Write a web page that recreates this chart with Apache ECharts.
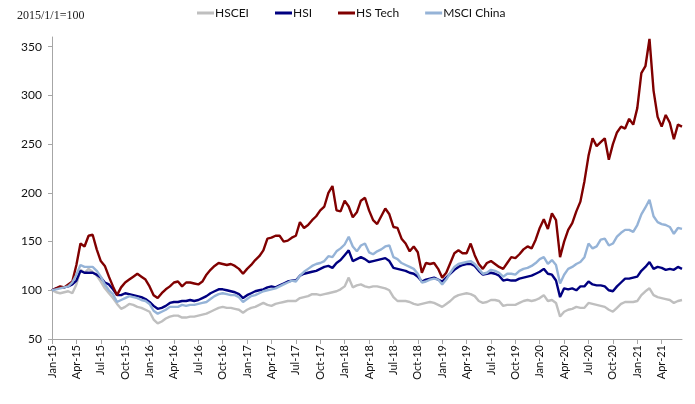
<!DOCTYPE html>
<html>
<head>
<meta charset="utf-8">
<script src="https://cdn.jsdelivr.net/npm/echarts@6/dist/echarts.min.js"></script>
<style>
  html, body { margin: 0; padding: 0; background: #fff; }
  #chart { width: 695px; height: 404px; }
</style>
</head>
<body>
<div id="chart"></div>
<script>
// half-monthly readings, Jan 2015 .. mid Jun 2021, 2015/1/1 = 100
const hsTech = [
  100, 102, 104, 103, 106, 109, 126, 148, 145, 156, 157, 142, 130, 125, 114, 104,
  95, 103, 108, 111, 114, 117, 114, 111, 104, 95, 92, 97, 101, 104, 108, 109,
  104, 108, 108, 107, 106, 109, 116, 121, 125, 128, 127, 126, 127, 125, 122, 117,
  122, 126, 131, 135, 141, 153, 154, 156, 156, 150, 151, 154, 156, 170, 164, 167,
  172, 176, 182, 186, 200, 207, 182, 181, 192, 186, 175, 180, 192, 195, 182, 172,
  168, 176, 184, 178, 165, 164, 153, 148, 140, 145, 139, 118, 128, 127, 128, 122,
  113, 118, 128, 138, 141, 138, 138, 148, 136, 127, 122, 128, 130, 127, 124, 122,
  128, 134, 133, 137, 142, 145, 143, 152, 164, 173, 163, 179, 172, 134, 150, 162,
  169, 181, 191, 212, 238, 256, 248, 252, 256, 234, 250, 262, 268, 266, 276, 270,
  287, 323, 330, 358, 305, 278, 268, 280, 272, 255, 270, 268
];
const msciChina = [
  100, 101, 102, 103, 104, 108, 116, 126, 124, 124, 124, 120, 114, 106, 100, 96,
  88, 90, 92, 94, 93, 92, 90, 89, 86, 79, 76, 78, 80, 83, 83, 83,
  85, 84, 85, 85, 86, 87, 88, 91, 94, 96, 97, 96, 95, 95, 93, 88,
  91, 94, 95, 97, 99, 100, 101, 102, 104, 106, 108, 110, 109, 115, 119, 122,
  125, 127, 128, 130, 135, 134, 140, 143, 147, 155, 145, 140, 146, 148, 139, 137,
  140, 142, 145, 146, 134, 132, 128, 126, 124, 122, 117, 108, 109, 111, 112, 111,
  106, 111, 118, 124, 127, 128, 129, 130, 127, 122, 117, 118, 121, 120, 118, 114,
  117, 117, 116, 120, 122, 123, 125, 128, 132, 134, 127, 131, 126, 107, 116, 122,
  124, 127, 129, 134, 148, 143, 145, 152, 153, 146, 148, 155, 159, 162, 162, 160,
  167, 178, 185, 193, 176, 170, 168, 167, 165, 158, 164, 163
];
const hsi = [
  100, 102, 103, 103, 104, 106, 110, 120, 118, 118, 118, 116, 113, 108, 106, 101,
  95, 95, 97, 96, 95, 94, 93, 91, 88, 84, 81, 82, 84, 87, 88, 88,
  89, 89, 90, 89, 90, 92, 94, 97, 99, 101, 101, 100, 99, 98, 96, 92,
  95, 97, 99, 100, 101, 103, 104, 103, 105, 107, 109, 110, 110, 115, 117, 118,
  119, 120, 122, 124, 125, 123, 128, 131, 136, 141, 130, 132, 134, 132, 129, 130,
  131, 132, 133, 130, 123, 122, 121, 120, 118, 117, 114, 109, 111, 112, 113, 111,
  109, 113, 117, 121, 124, 126, 127, 127, 125, 120, 116, 117, 118, 117, 115, 110,
  111, 110, 110, 112, 113, 114, 115, 117, 119, 122, 117, 116, 110, 93, 102, 101,
  102, 100, 104, 104, 109, 106, 105, 105, 104, 100, 99, 104, 108, 112, 112, 113,
  114, 120, 124, 129, 122, 124, 123, 121, 122, 121, 124, 122
];
const hscei = [
  100, 98, 97, 98, 99, 97, 106, 121, 118, 122, 119, 115, 109, 102, 97, 92,
  86, 81, 83, 86, 85, 83, 82, 80, 78, 70, 66, 68, 71, 73, 74, 74,
  72, 72, 73, 73, 74, 75, 76, 78, 80, 82, 83, 82, 82, 81, 80, 77,
  80, 82, 83, 85, 87, 85, 84, 86, 87, 88, 89, 89, 89, 92, 93, 94,
  96, 96, 95, 96, 97, 98, 99, 101, 104, 113, 103, 105, 106, 104, 103, 104,
  104, 103, 102, 100, 93, 89, 89, 89, 88, 86, 85, 86, 87, 88, 87, 85,
  83, 86, 89, 93, 95, 96, 97, 96, 94, 89, 87, 88, 90, 90, 89, 84,
  85, 85, 85, 87, 89, 90, 89, 90, 92, 95, 89, 90, 87, 73, 78, 80,
  81, 83, 82, 82, 87, 86, 85, 84, 83, 80, 78, 82, 86, 88, 88, 88,
  89, 95, 99, 102, 95, 93, 92, 91, 90, 87, 89, 90
];
const monthNames = ['Jan', 'Feb', 'Mar', 'Apr', 'May', 'Jun', 'Jul', 'Aug', 'Sep', 'Oct', 'Nov', 'Dec'];
const yTicks = [50, 100, 150, 200, 250, 300, 350];

// two points a month: the 1st and the 16th
let dates = [];
for (let y = 2015; y <= 2021; y++) {
  for (let m = 0; m < 12; m++) {
    if (y === 2021 && m > 5) break;
    dates.push(monthNames[m] + '-' + String(y).slice(2));
    dates.push(monthNames[m] + '-' + String(y).slice(2) + ' 16');
  }
}

// quarter labels only: Jan / Apr / Jul / Oct on the 1st
const isQuarter = (idx) => idx % 6 === 0;

const font = 'Lato, "Open Sans", sans-serif';

let options = {
  animation: false,
  backgroundColor: '#fff',
  title: {
    text: '2015/1/1=100',
    left: 12,
    top: 5,
    textStyle: {fontFamily: '"Liberation Serif", "DejaVu Serif", serif', fontSize: 12, fontWeight: 'normal', color: '#222'}
  },
  legend: {
    data: ['HSCEI', 'HSI', 'HS Tech', 'MSCI China'],
    left: 192,
    top: 2,
    icon: 'rect',
    itemWidth: 17,
    itemHeight: 3,
    itemGap: 26,
    textStyle: {fontFamily: font, fontSize: 12, color: '#111', padding: [0, 0, 0, -4]}
  },
  grid: {left: 52, right: 13, top: 37, bottom: 65, containLabel: false},
  xAxis: {
    type: 'category',
    data: dates,
    boundaryGap: false,
    axisLine: {lineStyle: {color: '#a6a6a6', width: 1}},
    axisTick: {interval: isQuarter, length: 5, lineStyle: {color: '#a6a6a6'}},
    axisLabel: {
      interval: isQuarter,
      rotate: 90,
      margin: 6,
      fontFamily: font,
      fontSize: 11,
      color: '#111'
    },
    splitLine: {show: false}
  },
  yAxis: {
    type: 'value',
    min: 50,
    max: 360,
    interval: 50,
    axisLine: {show: true, lineStyle: {color: '#a6a6a6', width: 1}},
    axisTick: {show: true, length: 4, customValues: yTicks, lineStyle: {color: '#a6a6a6'}},
    axisLabel: {customValues: yTicks, margin: 10, fontFamily: font, fontSize: 12, color: '#111'},
    splitLine: {show: false}
  },
  series: [
    {name: 'HSCEI', data: hscei, color: '#bfbfbf'},
    {name: 'HSI', data: hsi, color: '#000080'},
    {name: 'HS Tech', data: hsTech, color: '#800000'},
    {name: 'MSCI China', data: msciChina, color: '#95b3d7'}
  ].map(s => ({
    name: s.name,
    type: 'line',
    data: s.data,
    symbol: 'none',
    itemStyle: {color: s.color},
    lineStyle: {color: s.color, width: 2.4}
  }))
};

let myChart = echarts.init(document.getElementById('chart'));
myChart.setOption(options);
</script>
</body>
</html>
